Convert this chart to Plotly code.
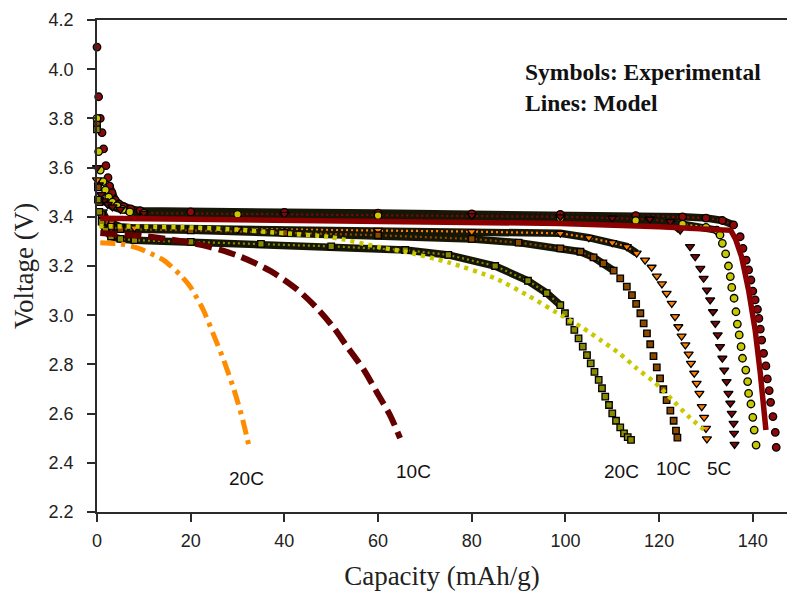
import plotly.graph_objects as go

# ---------------- experimental discharge curves (symbols) ----------------
# dark red circles
exp_circ_red_cap = [0, 0.35, 0.7, 1.07, 1.4, 1.9, 2.35, 2.7, 3.2, 3.9, 4.7, 5.7, 7.2, 9.2,
                    20, 40, 60, 80, 98.9, 115, 125, 130, 133.5, 135.9, 137.3, 137.9, 138.6,
                    139.1, 139.6, 140.0, 140.5, 141.0, 141.3, 141.6, 141.9, 142.3, 142.8,
                    143.1, 143.5, 143.8, 144.3, 144.8, 145.0]
exp_circ_red_v = [4.09, 3.888, 3.80, 3.742, 3.676, 3.608, 3.559, 3.525, 3.498, 3.468, 3.452,
                  3.441, 3.432, 3.425, 3.42, 3.418, 3.415, 3.412, 3.41, 3.405, 3.40, 3.395,
                  3.385, 3.367, 3.319, 3.272, 3.224, 3.184, 3.143, 3.098, 3.062, 3.024, 2.987,
                  2.943, 2.899, 2.845, 2.794, 2.741, 2.693, 2.646, 2.588, 2.524, 2.463]

# yellow circles
exp_circ_yel_cap = [0, 0.35, 0.7, 1.3, 1.8, 2.5, 3.3, 4.3, 5.5, 7, 10, 30, 60, 98.9, 115, 125,
                    130, 132.3, 133.0, 133.5, 134.2, 134.8, 135.2, 135.5, 136.0, 136.4, 136.7,
                    137.1, 137.5, 137.8, 138.5, 138.9, 139.1, 139.6, 140.0, 140.3, 140.7]
exp_circ_yel_v = [3.80, 3.665, 3.59, 3.543, 3.509, 3.48, 3.46, 3.445, 3.43, 3.42, 3.415, 3.41,
                  3.405, 3.395, 3.385, 3.37, 3.357, 3.346, 3.326, 3.292, 3.249, 3.200, 3.157,
                  3.113, 3.069, 3.014, 2.964, 2.920, 2.872, 2.825, 2.777, 2.730, 2.682, 2.639,
                  2.585, 2.533, 2.472]

# dark red down-triangles
exp_tri_red_cap = [0, 0.4, 0.9, 1.5, 2.3, 3.3, 5, 10, 40, 80, 98.9, 110, 118, 122.4, 124.5,
                   126.6, 127.7, 128.8, 129.5, 130.2, 130.9, 131.5, 132.0, 132.5, 133.0, 133.5,
                   133.9, 134.4, 134.8, 135.2, 135.5, 135.9, 136.0, 136.1]
exp_tri_red_v = [3.60, 3.53, 3.49, 3.465, 3.45, 3.44, 3.43, 3.415, 3.41, 3.405, 3.40, 3.395,
                 3.39, 3.380, 3.346, 3.279, 3.238, 3.190, 3.150, 3.102, 3.062, 3.014, 2.967,
                 2.920, 2.872, 2.825, 2.777, 2.730, 2.682, 2.642, 2.601, 2.560, 2.520, 2.475]

# orange down-triangles (5C)
exp_tri_org_cap = [0, 0.5, 1.2, 2, 3, 5, 8, 30, 60, 80, 98.9, 105, 110, 113.1, 115.2, 117.0,
                   118.4, 119.5, 120.6, 121.6, 122.7, 123.4, 124.1, 124.8, 125.6, 126.3, 126.8,
                   127.5, 128.0, 128.6, 129.1, 129.6, 130.0, 130.2]
exp_tri_org_v = [3.55, 3.47, 3.42, 3.39, 3.375, 3.36, 3.355, 3.35, 3.345, 3.34, 3.333, 3.315,
                 3.295, 3.279, 3.252, 3.224, 3.195, 3.159, 3.127, 3.089, 3.048, 2.994, 2.953,
                 2.915, 2.879, 2.842, 2.804, 2.764, 2.723, 2.682, 2.628, 2.585, 2.540, 2.497]

# brown squares (10C)
exp_sq_brn_cap = [0, 0.2, 0.5, 1.0, 1.8, 3, 5, 20, 40, 60, 80, 90, 98.9, 103.2, 106.0, 108.1,
                  110.3, 111.7, 113.1, 114.2, 115.1, 116.0, 116.7, 117.4, 118.1, 118.8, 119.5,
                  120.2, 120.9, 121.6, 122.4, 123.1, 123.6, 123.9]
exp_sq_brn_v = [3.775, 3.52, 3.46, 3.41, 3.38, 3.36, 3.35, 3.345, 3.335, 3.325, 3.31, 3.295,
                3.272, 3.258, 3.235, 3.211, 3.181, 3.150, 3.116, 3.082, 3.046, 3.008, 2.967,
                2.926, 2.882, 2.834, 2.788, 2.743, 2.699, 2.655, 2.612, 2.571, 2.531, 2.502]

# olive squares (20C)
exp_sq_olv_cap = [0, 0.2, 0.5, 1.0, 1.8, 3, 5, 8, 20, 35, 50, 65.8, 75, 85, 92, 96, 98.9, 99.9,
                  100.9, 101.9, 102.8, 103.7, 104.6, 105.4, 106.2, 107.1, 107.8, 108.5, 109.3,
                  110.0, 110.8, 111.7, 112.5, 113.3, 114.0]
exp_sq_olv_v = [3.755, 3.47, 3.42, 3.38, 3.345, 3.32, 3.31, 3.305, 3.298, 3.29, 3.28, 3.265,
                3.245, 3.20, 3.14, 3.09, 3.041, 3.008, 2.974, 2.940, 2.906, 2.872, 2.838, 2.804,
                2.770, 2.737, 2.703, 2.669, 2.635, 2.601, 2.571, 2.544, 2.520, 2.504, 2.493]

# ---------------- model curves (lines) ----------------
mod_red_cap = [0.7, 20, 50, 80, 98.9, 120, 135.3, 136.3, 137.6, 139.1, 140.5, 141.6, 142.4, 142.8]
mod_red_v = [3.394, 3.39, 3.385, 3.378, 3.373, 3.36, 3.345, 3.31, 3.238, 3.102, 2.94, 2.764,
             2.615, 2.533]

mod_yel_cap = [0.5, 10, 21, 30, 40, 50, 61.5, 65.8, 75, 85, 92, 99.6, 103.8, 107.8, 111.7,
               115.2, 119.1, 122.7, 126.2, 130.2]
mod_yel_v = [3.362, 3.36, 3.356, 3.348, 3.333, 3.317, 3.272, 3.258, 3.215, 3.15, 3.08, 2.994,
             2.947, 2.895, 2.842, 2.784, 2.726, 2.658, 2.59, 2.524]

mod_10c_cap = [0.7, 10.7, 17.8, 24, 30.6, 37.0, 42.7, 46.9, 50.5, 53.4, 56.9, 59.8, 62.6, 64.7]
mod_10c_v = [3.334, 3.320, 3.302, 3.278, 3.238, 3.180, 3.105, 3.030, 2.950, 2.872, 2.780,
             2.685, 2.592, 2.50]

mod_20c_cap = [0.7, 5, 8.9, 14.2, 17.8, 19.9, 22.7, 25.2, 27.0, 29.2, 30.9, 32.4]
mod_20c_v = [3.295, 3.29, 3.272, 3.224, 3.163, 3.116, 3.021, 2.906, 2.82, 2.70, 2.59, 2.472]

# rate labels: text, capacity, voltage
rate_labels = ["20C", "10C", "20C", "10C", "5C"]
rate_label_cap = [32.0, 67.6, 112.0, 123.0, 132.7]
rate_label_v = [2.337, 2.364, 2.364, 2.378, 2.378]

x_ticks = [0, 20, 40, 60, 80, 100, 120, 140]
y_ticks = [2.2, 2.4, 2.6, 2.8, 3.0, 3.2, 3.4, 3.6, 3.8, 4.0, 4.2]

fig = go.Figure()

BAND = '#161607'
AXIS = '#2b2b2b'
SANS = 'Liberation Sans, Arial, sans-serif'
SERIF = 'Liberation Serif, Times New Roman, serif'

experimental = [
    (exp_circ_red_cap, exp_circ_red_v, 2.7, 135.9, '#8e0a0a', 'circle', 7.5),
    (exp_circ_yel_cap, exp_circ_yel_v, 1.8, 133.0, '#c8c800', 'circle', 7.5),
    (exp_tri_red_cap, exp_tri_red_v, 1.5, 124.5, '#7a0a0a', 'triangle-down', 8),
    (exp_tri_org_cap, exp_tri_org_v, 1.2, 115.2, '#ff8000', 'triangle-down', 8),
    (exp_sq_brn_cap, exp_sq_brn_v, 1.0, 110.3, '#8c4a00', 'square', 6.5),
    (exp_sq_olv_cap, exp_sq_olv_v, 1.0, 98.9, '#8a8a00', 'square', 6.5),
]

# dense plateau sections: overlapping symbols form a dark band
for cap, v, lo, hi, color, sym, size in experimental:
    bx = [c for c in cap if lo <= c <= hi]
    by = [y for c, y in zip(cap, v) if lo <= c <= hi]
    fig.add_trace(go.Scatter(x=bx, y=by, mode='lines', line=dict(color=BAND, width=7.5),
                             hoverinfo='skip', showlegend=False))
    fig.add_trace(go.Scatter(x=bx, y=by, mode='lines',
                             line=dict(color=color, width=2.2, dash='2px,3px'),
                             hoverinfo='skip', showlegend=False))

# symbols
for cap, v, lo, hi, color, sym, size in experimental:
    fig.add_trace(go.Scatter(x=cap, y=v, mode='markers', cliponaxis=False,
                             marker=dict(symbol=sym, size=size, color=color,
                                         line=dict(color='black', width=1.3)),
                             showlegend=False))

# model lines
fig.add_trace(go.Scatter(x=mod_red_cap, y=mod_red_v, mode='lines',
                         line=dict(color='#8b0000', width=5.5), showlegend=False))
fig.add_trace(go.Scatter(x=mod_yel_cap, y=mod_yel_v, mode='lines',
                         line=dict(color='#c8c800', width=4.5, dash='4px,5px', shape='spline',
                                   smoothing=0.6), showlegend=False))
fig.add_trace(go.Scatter(x=mod_10c_cap, y=mod_10c_v, mode='lines',
                         line=dict(color='#660000', width=6, dash='17px,7px', shape='spline',
                                   smoothing=0.8), showlegend=False))
fig.add_trace(go.Scatter(x=mod_20c_cap, y=mod_20c_v, mode='lines',
                         line=dict(color='#ff8c00', width=5, dash='15px,6px,4px,6px',
                                   shape='spline', smoothing=0.6), showlegend=False))

for t, c, v in zip(rate_labels, rate_label_cap, rate_label_v):
    fig.add_annotation(x=c, y=v, text=t, showarrow=False, xanchor='center', yanchor='middle',
                       font=dict(family=SANS, size=19, color='#111'))

fig.add_annotation(x=91.0, y=4.05, xanchor='left', yanchor='top', align='left',
                   showarrow=False,
                   text='<b>Symbols: Experimental</b><br><b>Lines: Model</b>',
                   font=dict(family=SERIF, size=23.5, color='#111'))

fig.update_layout(
    width=787, height=598,
    margin=dict(l=97, r=0, t=20, b=86),
    plot_bgcolor='white', paper_bgcolor='white',
    showlegend=False,
)
fig.update_xaxes(
    range=[0, 147.3], tickvals=x_ticks, ticktext=[str(t) for t in x_ticks],
    showline=True, linecolor=AXIS, linewidth=1.6, mirror=True,
    ticks='outside', ticklen=8, tickwidth=1.5, tickcolor=AXIS,
    showgrid=False, zeroline=False, ticklabelstandoff=4,
    tickfont=dict(family=SANS, size=18, color='#222'),
    title=dict(text='Capacity (mAh/g)', font=dict(family=SERIF, size=27, color='#222'),
               standoff=16),
)
fig.update_yaxes(
    range=[2.2, 4.2], tickvals=y_ticks, ticktext=[f'{t:.1f}' for t in y_ticks],
    showline=True, linecolor=AXIS, linewidth=1.6,
    ticks='outside', ticklen=8, tickwidth=1.5, tickcolor=AXIS,
    showgrid=False, zeroline=False, ticklabelstandoff=10,
    tickfont=dict(family=SANS, size=18, color='#222'),
    title=dict(text='Voltage (V)', font=dict(family=SERIF, size=27, color='#222'),
               standoff=7),
)

fig.write_html('out.html')
